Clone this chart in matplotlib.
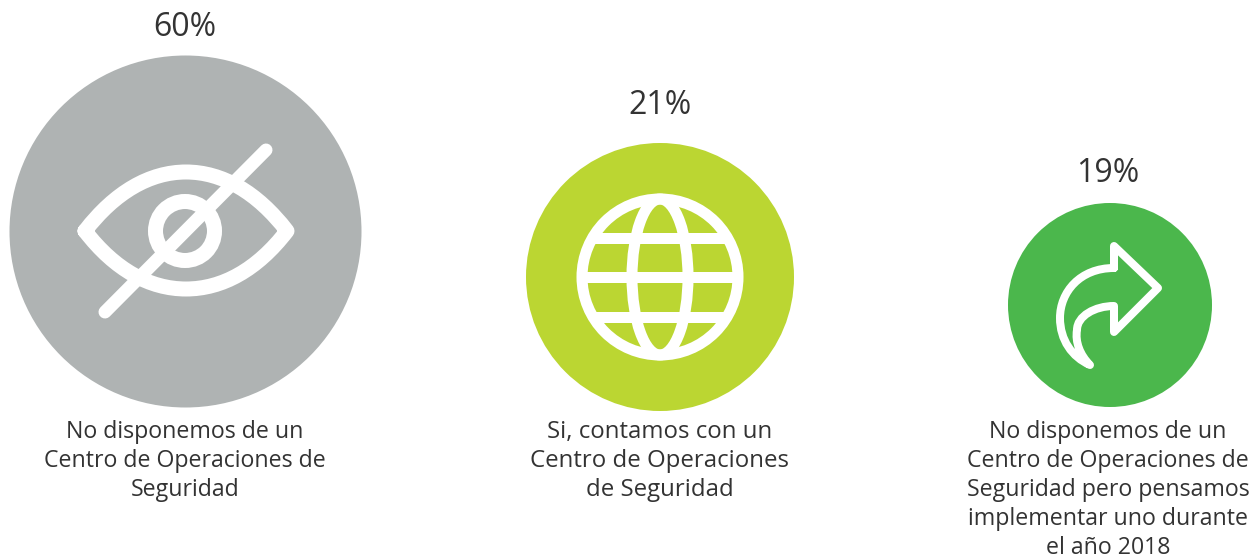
import matplotlib
matplotlib.use('Agg')
import matplotlib.pyplot as plt
from matplotlib.patches import Circle, Ellipse, PathPatch
from matplotlib.path import Path

plt.rcParams['font.family'] = ['Open Sans', 'DejaVu Sans']

values = [60, 21, 19]
labels = [
    ['No disponemos de un', 'Centro de Operaciones de', 'Seguridad'],
    ['Si, contamos con un', 'Centro de Operaciones', 'de Seguridad'],
    ['No disponemos de un', 'Centro de Operaciones de', 'Seguridad pero pensamos',
     'implementar uno durante', 'el año 2018'],
]
colors = ['#AFB3B3', '#BBD632', '#4BB74C']

# circle layout in pixels
centers_x = [185.5, 660, 1110]
centers_y = [231.5, 277, 305]
radius = [176, 134, 102]
value_y = [28, 106, 174]
value_x = [185, 660, 1108]
label_x = [185, 660, 1108]
label_size = [16.7, 17.3, 16.7]

text_color = '#333333'
px = 72 / 100  # pixels to points at dpi 100

fig = plt.figure(figsize=(12.58, 5.58), dpi=100)
ax = fig.add_axes([0, 0, 1, 1])
ax.set_xlim(0, 1258)
ax.set_ylim(558, 0)
ax.axis('off')

for i in range(3):
    ax.add_patch(Circle((centers_x[i], centers_y[i]), radius[i], fc=colors[i], ec='none'))
    ax.text(value_x[i], value_y[i], f'{values[i]}%', ha='center', va='center',
            fontsize=23, color=text_color)
    for j, line in enumerate(labels[i]):
        ax.text(label_x[i], 432 + j * 29, line, ha='center', va='center',
                fontsize=label_size[i], color=text_color)


def stroke(verts, codes, width):
    patch = PathPatch(Path(verts, codes), fc='none', ec='white', lw=width * px,
                      capstyle='round', joinstyle='round')
    ax.add_patch(patch)
    return patch


M, C, L = Path.MOVETO, Path.CURVE4, Path.LINETO

# eye icon
stroke([(85, 231), (115, 192), (150, 172), (186, 172), (222, 172), (257, 192), (287, 231),
        (257, 270), (222, 289), (186, 289), (150, 289), (115, 270), (85, 231)],
       [M, C, C, C, C, C, C, C, C, C, C, C, C], 15)
ax.add_patch(Circle((185, 231), 29.5, fc='none', ec='white', lw=15 * px))
stroke([(105, 312), (266, 150)], [M, L], 13)

# globe icon
ax.add_patch(Circle((660, 277), 78, fc='none', ec='white', lw=11 * px))
ax.add_patch(Ellipse((660, 277), 56, 156, fc='none', ec='white', lw=11 * px))
clip = Circle((660, 277), 80, transform=ax.transData)
for y in [238, 277, 317]:
    line, = ax.plot([575, 745], [y, y], color='white', lw=11 * px, solid_capstyle='butt')
    line.set_clip_path(clip)

# arrow icon
stroke([(1114, 268), (1114, 246), (1158, 288), (1114, 332), (1114, 306),
        (1095, 306), (1077, 316), (1077, 330), (1075, 342), (1080, 355), (1090, 365),
        (1072, 357), (1060, 340), (1060, 318), (1060, 292), (1080, 268), (1114, 268)],
       [M, L, L, L, L, C, C, C, C, C, C, C, C, C, C, C, C], 8)

fig.savefig('out.png', dpi=100)
